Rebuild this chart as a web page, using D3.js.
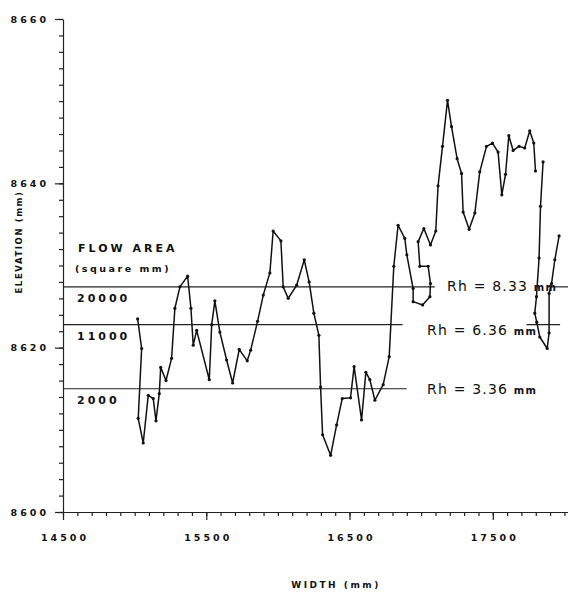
<!DOCTYPE html>
<html>
<head>
<meta charset="utf-8">
<script src="https://cdn.jsdelivr.net/npm/d3@7"></script>
<style>
  body { margin: 0; background: #fff; }
  svg { display: block; }
  text { fill: #111; }
</style>
</head>
<body>
<div id="chart"></div>
<script>
/// CROSS SECTION PROFILE ///
const widthMm = [
  15021, 15049, 15025, 15060, 15095, 15130, 15149, 15172, 15182, 15219,
  15258, 15281, 15316, 15370, 15393, 15409, 15433, 15521, 15538, 15560,
  15595, 15642, 15684, 15730, 15786, 15810, 15858, 15898, 15944, 15967,
  16021, 16037, 16072, 16131, 16184, 16218, 16251, 16286, 16298, 16312,
  16368, 16410, 16449, 16507, 16532, 16584, 16614, 16642, 16677, 16735,
  16777, 16809, 16839, 16886, 16900, 16944, 16944, 17010, 17061, 17065,
  17049, 16991, 16979, 17019, 17065, 17102, 17118, 17149, 17184, 17212,
  17251, 17282, 17293, 17335, 17375, 17409, 17456, 17498, 17537, 17563,
  17589, 17612, 17642, 17684, 17723, 17758, 17786, 17798, null,
  17851, 17833, 17823, 17805, 17793, 17807, 17828, 17880, 17893, 17893,
  17910, 17933, 17963,
];
const elevationMm = [
  8623.5, 8619.9, 8611.4, 8608.4, 8614.2, 8613.8, 8611.1, 8614.4, 8617.6, 8616.0,
  8618.7, 8624.8, 8627.4, 8628.7, 8624.8, 8620.3, 8622.1, 8616.1, 8622.8, 8625.7,
  8621.9, 8618.5, 8615.7, 8619.8, 8618.4, 8619.7, 8623.2, 8626.4, 8629.1, 8634.2,
  8633.0, 8627.4, 8626.0, 8627.6, 8630.7, 8628.0, 8624.2, 8621.5, 8615.2, 8609.4,
  8606.9, 8610.6, 8613.8, 8613.9, 8617.7, 8611.2, 8617.0, 8616.1, 8613.6, 8615.5,
  8618.9, 8629.9, 8634.9, 8633.3, 8631.3, 8627.2, 8625.6, 8625.2, 8626.2, 8627.8,
  8629.9, 8629.9, 8632.9, 8634.5, 8632.5, 8634.2, 8639.7, 8644.5, 8650.1, 8646.9,
  8643.0, 8641.2, 8636.5, 8634.4, 8636.4, 8641.4, 8644.5, 8644.9, 8643.8, 8638.6,
  8641.1, 8645.8, 8644.0, 8644.5, 8644.3, 8646.4, 8644.9, 8641.5, null,
  8642.6, 8637.2, 8630.9, 8626.2, 8624.2, 8623.1, 8621.3, 8619.9, 8621.8, 8626.6,
  8627.8, 8630.7, 8633.6,
];

// water levels for the three flow areas
const flowAreas = ["20000", "11000", "2000"];
const waterLevels = [8627.4, 8622.8, 8615.0];
const hydraulicRadius = ["8.33", "6.36", "3.36"];
// drawn pieces of each level line (mm across)
const levelSpans = [
  [[14500, 17095], [17880, 18025]],
  [[14500, 16870], [17735, 17970]],
  [[14500, 16900]],
];

const xTickLabels = [14500, 15500, 16500, 17500];
const yTickLabels = [8600, 8620, 8640, 8660];

const W = 568, H = 592;
const bold = "'DejaVu Sans', sans-serif";

const profile = widthMm.map((w, i) => ({ w: w, e: elevationMm[i] }));

const svg = d3.select("#chart").append("svg")
  .attr("width", W)
  .attr("height", H);

svg.append("rect").attr("width", W).attr("height", H).attr("fill", "#fff");

const x = d3.scaleLinear().domain([14500, 18025]).range([63, 568]);
const y = d3.scaleLinear().domain([8600, 8660]).range([512, 19]);

// minor ticks
svg.append("g")
  .attr("transform", `translate(0,${y(8600)})`)
  .call(d3.axisBottom(x).tickValues(d3.range(14500, 18001, 100)).tickSize(4).tickFormat(""))
  .call(g => g.select(".domain").remove());

svg.append("g")
  .attr("transform", `translate(${x(14500)},0)`)
  .call(d3.axisLeft(y).tickValues(d3.range(8600, 8661, 2)).tickSize(4).tickFormat(""))
  .call(g => g.select(".domain").remove());

// main axes
const xAxis = svg.append("g")
  .attr("transform", `translate(0,${y(8600)})`)
  .call(d3.axisBottom(x).tickValues(xTickLabels).tickSize(8).tickSizeOuter(0).tickPadding(14).tickFormat(d3.format("d")));

const yAxis = svg.append("g")
  .attr("transform", `translate(${x(14500)},0)`)
  .call(d3.axisLeft(y).tickValues(yTickLabels).tickSize(8).tickSizeOuter(0).tickPadding(8).tickFormat(d3.format("d")));

svg.selectAll(".tick line, .domain").attr("stroke", "#222").attr("stroke-width", 1.2);

xAxis.selectAll("text")
  .style("font-family", bold).style("font-weight", "bold")
  .style("font-size", "9.5px").style("letter-spacing", "3px")
  .attr("dx", "1.5px");

yAxis.selectAll("text")
  .style("font-family", bold).style("font-weight", "bold")
  .style("font-size", "9.5px").style("letter-spacing", "3px")
  .attr("dx", "2px");

// axis titles
svg.append("text")
  .attr("x", 336).attr("y", 588)
  .attr("text-anchor", "middle")
  .style("font-family", bold).style("font-weight", "bold")
  .style("font-size", "9px").style("letter-spacing", "2.5px")
  .text("WIDTH (mm)");

svg.append("text")
  .attr("transform", "translate(22,242) rotate(-90)")
  .attr("text-anchor", "middle")
  .style("font-family", bold).style("font-weight", "bold")
  .style("font-size", "8.5px").style("letter-spacing", "1.6px")
  .text("ELEVATION (mm)");

// water level lines
waterLevels.forEach((lvl, i) => {
  svg.append("g")
    .selectAll("line")
    .data(levelSpans[i])
    .join("line")
    .attr("x1", d => x(d[0]))
    .attr("x2", d => x(d[1]))
    .attr("y1", y(lvl))
    .attr("y2", y(lvl))
    .attr("stroke", "#222")
    .attr("stroke-width", 1.2);
});

// flow area legend
svg.append("text")
  .attr("x", 78).attr("y", 252)
  .style("font-family", bold).style("font-weight", "bold")
  .style("font-size", "11px").style("letter-spacing", "3px")
  .text("FLOW AREA");

svg.append("text")
  .attr("x", 75).attr("y", 272)
  .style("font-family", bold).style("font-weight", "bold")
  .style("font-size", "9.5px").style("letter-spacing", "2.5px")
  .text("(square mm)");

svg.append("g")
  .selectAll("text")
  .data(flowAreas)
  .join("text")
  .attr("x", 77)
  .attr("y", (d, i) => y(waterLevels[i]) + 15)
  .style("font-family", bold).style("font-weight", "bold")
  .style("font-size", "11px").style("letter-spacing", "3px")
  .text(d => d);

// hydraulic radius labels
const rhPos = [[447, 4], [427, 10], [427, 5]];
const rh = svg.append("g")
  .selectAll("text")
  .data(hydraulicRadius)
  .join("text")
  .attr("x", (d, i) => rhPos[i][0])
  .attr("y", (d, i) => y(waterLevels[i]) + rhPos[i][1])
  .style("font-family", "'DejaVu Sans', sans-serif")
  .style("font-size", "14px").style("letter-spacing", "1.2px");
rh.append("tspan").text(d => `Rh = ${d} `);
rh.append("tspan")
  .style("font-size", "10px").style("font-weight", "bold")
  .text("mm");

// profile line
const line = d3.line()
  .defined(d => d.e != null)
  .x(d => x(d.w))
  .y(d => y(d.e));

svg.append("path")
  .datum(profile)
  .attr("fill", "none")
  .attr("stroke", "#111")
  .attr("stroke-width", 1.5)
  .attr("stroke-linejoin", "round")
  .attr("d", line);

svg.append("g")
  .selectAll("circle")
  .data(profile.filter(d => d.e != null))
  .join("circle")
  .attr("cx", d => x(d.w))
  .attr("cy", d => y(d.e))
  .attr("r", 1.6)
  .attr("fill", "#111");
</script>
</body>
</html>
